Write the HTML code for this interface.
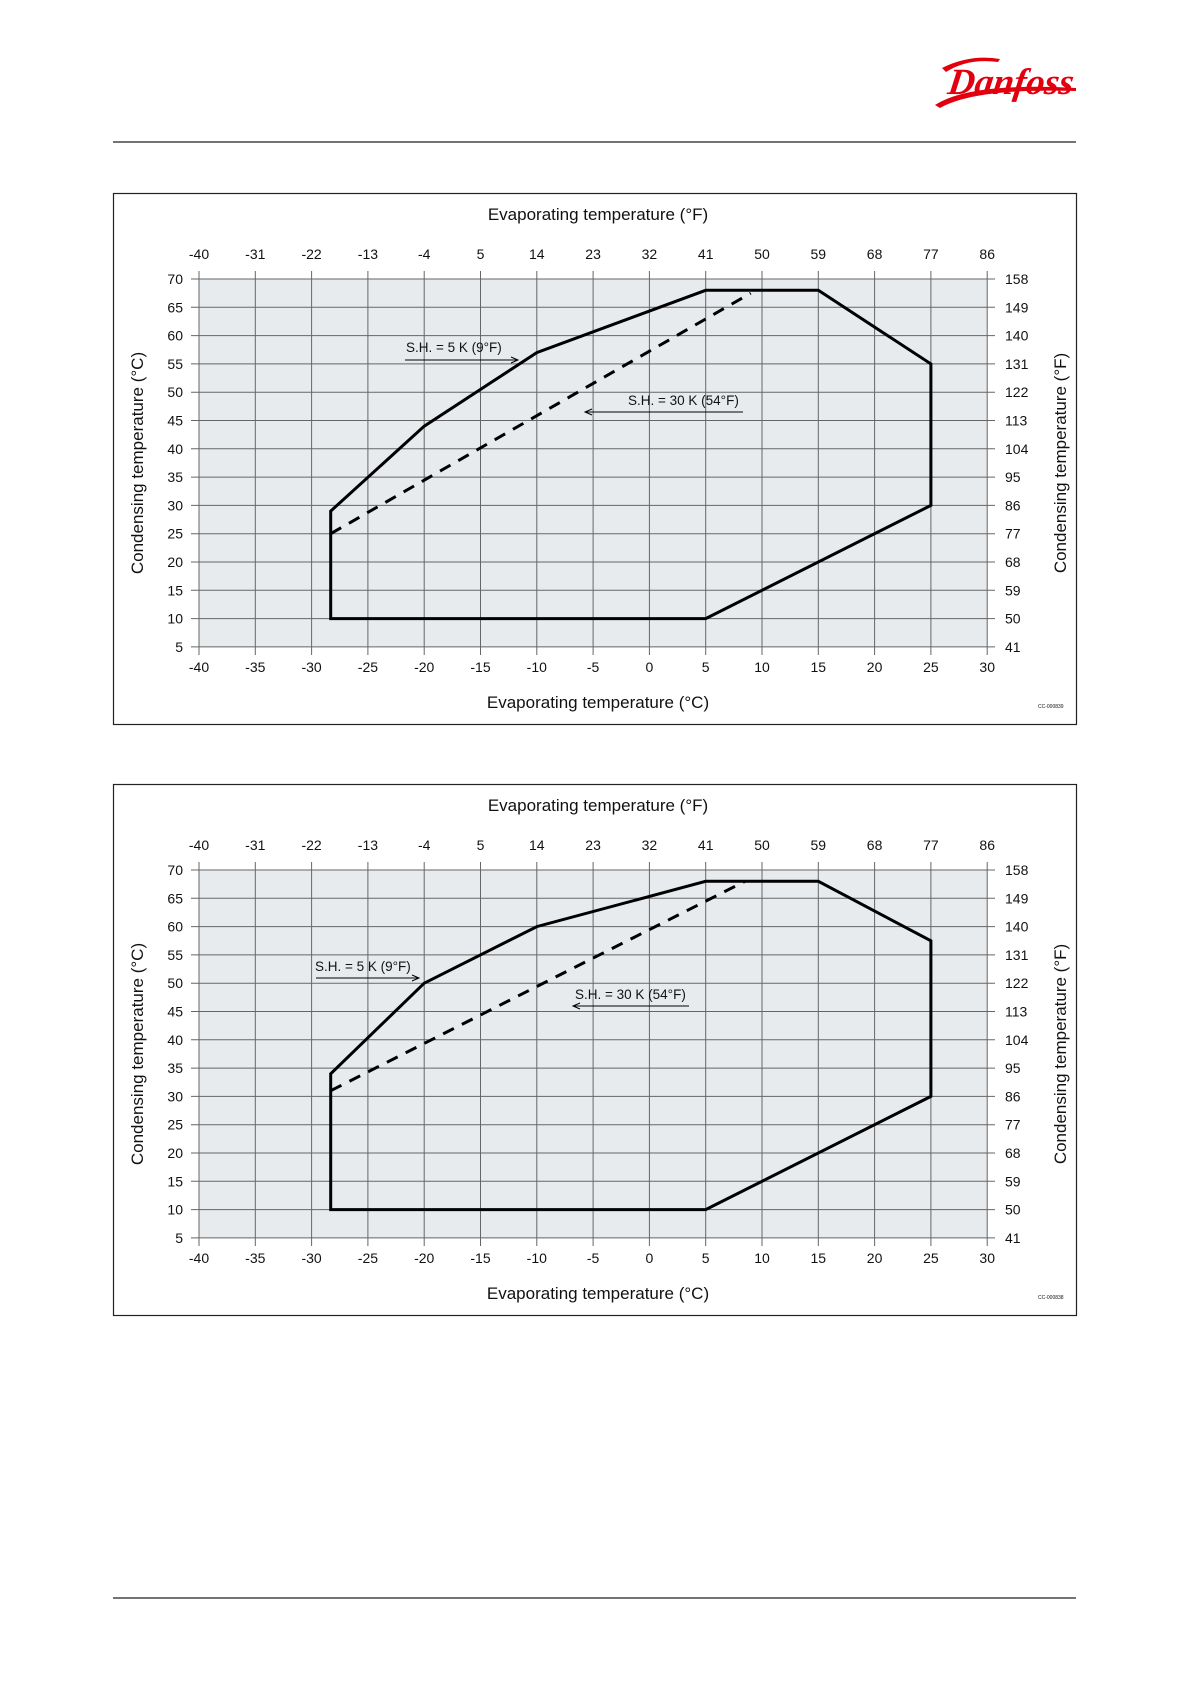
<!DOCTYPE html>
<html><head><meta charset="utf-8"><style>
html,body{margin:0;padding:0;background:#fff}
svg{display:block}
text{font-family:"Liberation Sans",sans-serif;fill:#111}
.t{font-size:14px}
.ti{font-size:17px}
.lb{font-size:13.5px}
</style></head><body>
<svg width="1191" height="1684" viewBox="0 0 1191 1684" xmlns="http://www.w3.org/2000/svg">
<!-- logo -->
<g fill="#e2000f">
<text x="948" y="94" style="font-family:'Liberation Serif',serif;font-style:italic;font-weight:bold;font-size:37px;fill:#e2000f" transform="skewX(-8) translate(12,0)">Danfoss</text>
<path d="M935 105 Q970 82 1076 88 L1076 91 Q975 88 940 108 Z"/>
<path d="M942 68 Q970 54 1000 59 L998 62 Q968 58 946 72 Z"/>
</g>
<line x1="113" y1="142" x2="1076" y2="142" stroke="#222" stroke-width="1.2"/>
<line x1="113" y1="1598" x2="1076" y2="1598" stroke="#222" stroke-width="1.2"/>

<!-- CHART 1 -->
<g>
<rect x="113.5" y="193.5" width="963" height="531" fill="none" stroke="#222" stroke-width="1.2"/>
<rect x="199" y="279" width="788" height="368" fill="#e8ebee"/>
<path stroke="#666" stroke-width="1" fill="none" d="M199 271V655M255.3 271V655M311.6 271V655M367.9 271V655M424.2 271V655M480.5 271V655M536.8 271V655M593.1 271V655M649.4 271V655M705.7 271V655M762 271V655M818.3 271V655M874.6 271V655M930.9 271V655M987.2 271V655
M191 279H995M191 307.3H995M191 335.6H995M191 363.9H995M191 392.2H995M191 420.5H995M191 448.8H995M191 477.1H995M191 505.4H995M191 533.7H995M191 562H995M191 590.3H995M191 618.6H995M191 646.9H995"/>
<polygon points="330.7,618.6 330.7,511.1 424.2,426.2 536.8,352.6 705.7,290.3 818.3,290.3 930.9,363.9 930.9,505.4 705.7,618.6" fill="none" stroke="#000" stroke-width="3" stroke-linejoin="miter"/>
<line x1="330.7" y1="533.7" x2="750.7" y2="293.2" stroke="#000" stroke-width="3" stroke-dasharray="12,9"/>
<text class="lb" x="406" y="352">S.H. = 5 K (9°F)</text>
<line x1="405" y1="360" x2="517" y2="360" stroke="#000" stroke-width="1"/>
<path d="M511 357L518 360L511 363" fill="none" stroke="#000"/>
<text class="lb" x="628" y="405">S.H. = 30 K (54°F)</text>
<line x1="586" y1="412" x2="743" y2="412" stroke="#000" stroke-width="1"/>
<path d="M592 409L585 412L592 415" fill="none" stroke="#000"/>
<g class="t" text-anchor="middle">
<text x="199" y="259">-40</text><text x="255.3" y="259">-31</text><text x="311.6" y="259">-22</text><text x="367.9" y="259">-13</text><text x="424.2" y="259">-4</text><text x="480.5" y="259">5</text><text x="536.8" y="259">14</text><text x="593.1" y="259">23</text><text x="649.4" y="259">32</text><text x="705.7" y="259">41</text><text x="762" y="259">50</text><text x="818.3" y="259">59</text><text x="874.6" y="259">68</text><text x="930.9" y="259">77</text><text x="987.2" y="259">86</text>
<text x="199" y="672">-40</text><text x="255.3" y="672">-35</text><text x="311.6" y="672">-30</text><text x="367.9" y="672">-25</text><text x="424.2" y="672">-20</text><text x="480.5" y="672">-15</text><text x="536.8" y="672">-10</text><text x="593.1" y="672">-5</text><text x="649.4" y="672">0</text><text x="705.7" y="672">5</text><text x="762" y="672">10</text><text x="818.3" y="672">15</text><text x="874.6" y="672">20</text><text x="930.9" y="672">25</text><text x="987.2" y="672">30</text>
</g>
<g class="t" text-anchor="end">
<text x="183" y="284">70</text><text x="183" y="312.3">65</text><text x="183" y="340.6">60</text><text x="183" y="368.9">55</text><text x="183" y="397.2">50</text><text x="183" y="425.5">45</text><text x="183" y="453.8">40</text><text x="183" y="482.1">35</text><text x="183" y="510.4">30</text><text x="183" y="538.7">25</text><text x="183" y="567">20</text><text x="183" y="595.3">15</text><text x="183" y="623.6">10</text><text x="183" y="651.9">5</text>
</g>
<g class="t">
<text x="1005" y="284">158</text><text x="1005" y="312.3">149</text><text x="1005" y="340.6">140</text><text x="1005" y="368.9">131</text><text x="1005" y="397.2">122</text><text x="1005" y="425.5">113</text><text x="1005" y="453.8">104</text><text x="1005" y="482.1">95</text><text x="1005" y="510.4">86</text><text x="1005" y="538.7">77</text><text x="1005" y="567">68</text><text x="1005" y="595.3">59</text><text x="1005" y="623.6">50</text><text x="1005" y="651.9">41</text>
</g>
<text class="ti" x="598" y="220" text-anchor="middle">Evaporating temperature (°F)</text>
<text class="ti" x="598" y="708" text-anchor="middle">Evaporating temperature (°C)</text>
<text class="ti" transform="translate(143,463) rotate(-90)" text-anchor="middle">Condensing temperature (°C)</text>
<text class="ti" transform="translate(1066,463) rotate(-90)" text-anchor="middle">Condensing temperature (°F)</text>
<text x="1038" y="708" style="font-size:5px">CC-000839</text>
</g>

<!-- CHART 2 -->
<g transform="translate(0,591)">
<rect x="113.5" y="193.5" width="963" height="531" fill="none" stroke="#222" stroke-width="1.2"/>
<rect x="199" y="279" width="788" height="368" fill="#e8ebee"/>
<path stroke="#666" stroke-width="1" fill="none" d="M199 271V655M255.3 271V655M311.6 271V655M367.9 271V655M424.2 271V655M480.5 271V655M536.8 271V655M593.1 271V655M649.4 271V655M705.7 271V655M762 271V655M818.3 271V655M874.6 271V655M930.9 271V655M987.2 271V655
M191 279H995M191 307.3H995M191 335.6H995M191 363.9H995M191 392.2H995M191 420.5H995M191 448.8H995M191 477.1H995M191 505.4H995M191 533.7H995M191 562H995M191 590.3H995M191 618.6H995M191 646.9H995"/>
<polygon points="330.7,618.6 330.7,482.8 424.2,392.2 536.8,335.6 705.7,290.3 818.3,290.3 930.9,349.8 930.9,505.4 705.7,618.6" fill="none" stroke="#000" stroke-width="3" stroke-linejoin="miter"/>
<line x1="330.7" y1="499.7" x2="745" y2="290.3" stroke="#000" stroke-width="3" stroke-dasharray="12,9"/>
<text class="lb" x="315" y="380">S.H. = 5 K (9°F)</text>
<line x1="316" y1="387" x2="418" y2="387" stroke="#000" stroke-width="1"/>
<path d="M412 384L419 387L412 390" fill="none" stroke="#000"/>
<text class="lb" x="575" y="408">S.H. = 30 K (54°F)</text>
<line x1="574" y1="415" x2="689" y2="415" stroke="#000" stroke-width="1"/>
<path d="M580 412L573 415L580 418" fill="none" stroke="#000"/>
<g class="t" text-anchor="middle">
<text x="199" y="259">-40</text><text x="255.3" y="259">-31</text><text x="311.6" y="259">-22</text><text x="367.9" y="259">-13</text><text x="424.2" y="259">-4</text><text x="480.5" y="259">5</text><text x="536.8" y="259">14</text><text x="593.1" y="259">23</text><text x="649.4" y="259">32</text><text x="705.7" y="259">41</text><text x="762" y="259">50</text><text x="818.3" y="259">59</text><text x="874.6" y="259">68</text><text x="930.9" y="259">77</text><text x="987.2" y="259">86</text>
<text x="199" y="672">-40</text><text x="255.3" y="672">-35</text><text x="311.6" y="672">-30</text><text x="367.9" y="672">-25</text><text x="424.2" y="672">-20</text><text x="480.5" y="672">-15</text><text x="536.8" y="672">-10</text><text x="593.1" y="672">-5</text><text x="649.4" y="672">0</text><text x="705.7" y="672">5</text><text x="762" y="672">10</text><text x="818.3" y="672">15</text><text x="874.6" y="672">20</text><text x="930.9" y="672">25</text><text x="987.2" y="672">30</text>
</g>
<g class="t" text-anchor="end">
<text x="183" y="284">70</text><text x="183" y="312.3">65</text><text x="183" y="340.6">60</text><text x="183" y="368.9">55</text><text x="183" y="397.2">50</text><text x="183" y="425.5">45</text><text x="183" y="453.8">40</text><text x="183" y="482.1">35</text><text x="183" y="510.4">30</text><text x="183" y="538.7">25</text><text x="183" y="567">20</text><text x="183" y="595.3">15</text><text x="183" y="623.6">10</text><text x="183" y="651.9">5</text>
</g>
<g class="t">
<text x="1005" y="284">158</text><text x="1005" y="312.3">149</text><text x="1005" y="340.6">140</text><text x="1005" y="368.9">131</text><text x="1005" y="397.2">122</text><text x="1005" y="425.5">113</text><text x="1005" y="453.8">104</text><text x="1005" y="482.1">95</text><text x="1005" y="510.4">86</text><text x="1005" y="538.7">77</text><text x="1005" y="567">68</text><text x="1005" y="595.3">59</text><text x="1005" y="623.6">50</text><text x="1005" y="651.9">41</text>
</g>
<text class="ti" x="598" y="220" text-anchor="middle">Evaporating temperature (°F)</text>
<text class="ti" x="598" y="708" text-anchor="middle">Evaporating temperature (°C)</text>
<text class="ti" transform="translate(143,463) rotate(-90)" text-anchor="middle">Condensing temperature (°C)</text>
<text class="ti" transform="translate(1066,463) rotate(-90)" text-anchor="middle">Condensing temperature (°F)</text>
<text x="1038" y="708" style="font-size:5px">CC-000838</text>
</g>
</svg>
</body></html>
